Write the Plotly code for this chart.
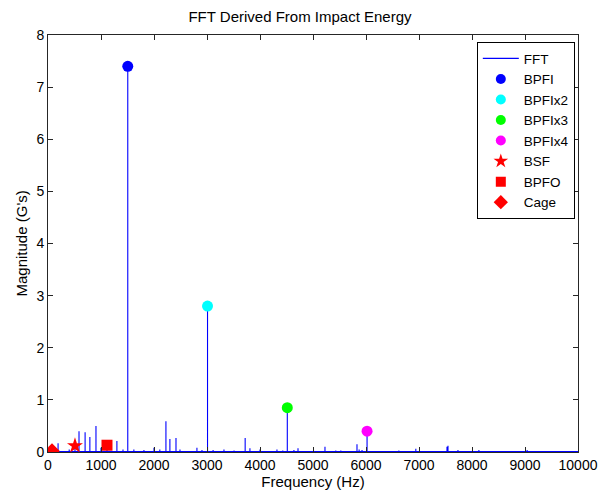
import plotly.graph_objects as go

# FFT spikes (frequency Hz, magnitude G's)
spike_freq = [75, 190, 400, 509, 585, 700, 790, 905, 1000, 1113, 1300, 1415, 1505, 1620, 1810,
              2000, 2110, 2225, 2300, 2415, 2490, 2810, 2905, 3010, 3115, 3320, 3510, 3720, 3810,
              4000, 4320, 4430, 4515, 4640, 4717, 5226, 5430, 5525, 5830, 5870, 5925, 6020,
              6150, 6620, 6940, 7415, 7528, 7547, 7735, 8130, 9040]
spike_mag = [0.02, 0.17, 0.05, 0.12, 0.40, 0.38, 0.29, 0.50, 0.08, 0.13, 0.21, 0.05, 7.40, 0.05, 0.04,
             0.08, 0.05, 0.59, 0.25, 0.27, 0.05, 0.08, 0.04, 2.80, 0.04, 0.05, 0.03, 0.27, 0.07,
             0.05, 0.05, 0.03, 0.85, 0.04, 0.07, 0.10, 0.03, 0.03, 0.15, 0.05, 0.04, 0.40,
             0.02, 0.03, 0.06, 0.02, 0.10, 0.12, 0.04, 0.04, 0.04]
baseline = 0.01
f_min, f_max = 0, 10000

x_ticks = [0, 1000, 2000, 3000, 4000, 5000, 6000, 7000, 8000, 9000, 10000]
x_tick_labels = ["0", "1000", "2000", "3000", "4000", "5000", "6000", "7000", "8000", "9000", "10000"]
y_ticks = [0, 1, 2, 3, 4, 5, 6, 7, 8]

# Fault frequency markers
marker_names = ["BPFI", "BPFIx2", "BPFIx3", "BPFIx4", "BSF", "BPFO", "Cage"]
marker_freq = [1505, 3010, 4515, 6020, 509, 1113, 75]
marker_mag = [7.40, 2.80, 0.85, 0.40, 0.12, 0.13, 0.02]
marker_color = ["#0000FF", "#00FFFF", "#00FF00", "#FF00FF", "#FF0000", "#FF0000", "#FF0000"]
marker_symbol = ["circle", "circle", "circle", "circle", "star", "square", "diamond"]
marker_size = [11, 11, 11, 11, 12, 11, 12]
legend_size = [10, 10, 10, 10, 11, 10, 11]

FONT = "Liberation Sans, Arial"

# build line: baseline with vertical spikes
xs, ys = [f_min], [baseline]
for f, m in zip(spike_freq, spike_mag):
    xs += [f, f, f]
    ys += [baseline, m, baseline]
xs.append(f_max)
ys.append(baseline)

fig = go.Figure()
fig.add_trace(go.Scatter(x=xs, y=ys, mode="lines", name="FFT",
                         line=dict(color="#0000FF", width=1.1)))
for i, name in enumerate(marker_names):
    fig.add_trace(go.Scatter(x=[marker_freq[i]], y=[marker_mag[i]], mode="markers", name=name,
                             showlegend=False, legendgroup=name,
                             marker=dict(color=marker_color[i], symbol=marker_symbol[i],
                                         size=marker_size[i], line=dict(width=0))))
    # legend entry with smaller symbol
    fig.add_trace(go.Scatter(x=[None], y=[None], mode="markers", name=name,
                             legendgroup=name,
                             marker=dict(color=marker_color[i], symbol=marker_symbol[i],
                                         size=legend_size[i], line=dict(width=0))))

axis_common = dict(showgrid=False, zeroline=False, showline=True, linecolor="#262626",
                   linewidth=1, mirror="ticks", ticks="inside", ticklen=5, automargin=False,
                   tickcolor="#262626", tickfont=dict(family=FONT, size=14, color="#000"))
fig.update_xaxes(range=[f_min, f_max], tickvals=x_ticks, ticktext=x_tick_labels,
                 title=dict(text="Frequency (Hz)", font=dict(family=FONT, size=15, color="#000"), standoff=3),
                 **axis_common)
fig.update_yaxes(range=[0, 8], tickvals=y_ticks, **axis_common)

fig.add_annotation(text="Magnitude (G's)", textangle=-90, x=0, xref="paper", y=0.5, yref="paper",
                   xanchor="center", yanchor="middle", xshift=-27, showarrow=False,
                   font=dict(family=FONT, size=15, color="#000"))

fig.update_layout(
    width=600, height=500,
    margin=dict(l=48, r=22, t=35, b=48),
    paper_bgcolor="white", plot_bgcolor="white",
    title=dict(text="FFT Derived From Impact Energy", x=0.5, xanchor="center", y=0.978, yanchor="top",
               font=dict(family=FONT, size=15, color="#000")),
    legend=dict(x=0.994, y=0.983, xanchor="right", yanchor="top", bgcolor="white",
                bordercolor="#000", borderwidth=1, itemwidth=36,
                font=dict(family=FONT, size=13.5, color="#000"),
                tracegroupgap=0),
    showlegend=True,
)

fig.write_html("out.html")
